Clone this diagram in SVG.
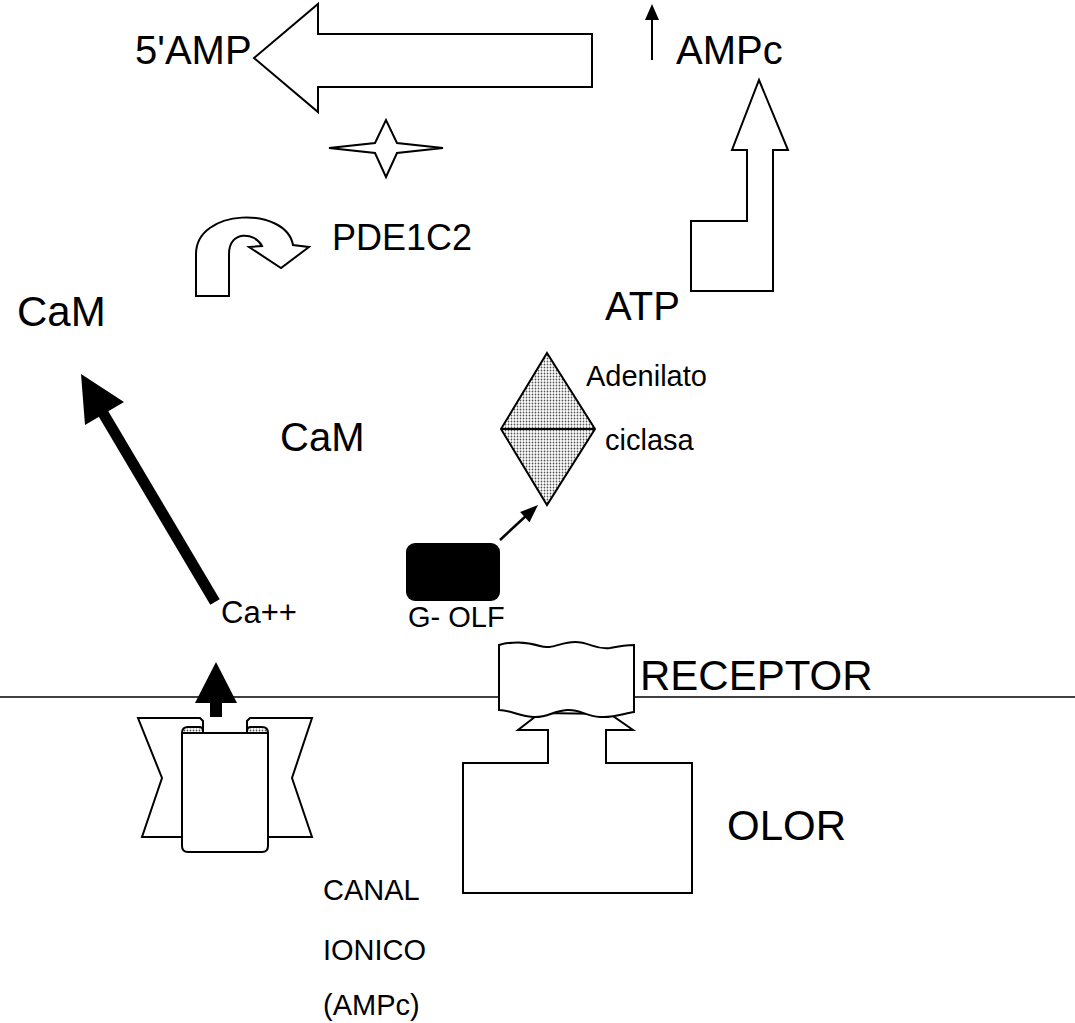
<svg xmlns="http://www.w3.org/2000/svg" width="1075" height="1023" viewBox="0 0 1075 1023">
<defs>
<pattern id="dots" width="3" height="3" patternUnits="userSpaceOnUse">
<rect width="3" height="3" fill="#ffffff"/>
<circle cx="1.5" cy="1.5" r="0.9" fill="#555555"/>
</pattern>
<style>
.t{font-family:"Liberation Sans",Arial,sans-serif;fill:#000}
.big{font-size:40px}
.sm{font-size:29px}
.o{fill:#fff;stroke:#000;stroke-width:2;stroke-linejoin:miter}
.d{fill:url(#dots);stroke:#000;stroke-width:2}
.k{fill:#000;stroke:none}
</style>
</defs>
<rect width="1075" height="1023" fill="#fff"/>

<g id="membrane"><line x1="0" y1="697" x2="1075" y2="697" stroke="#000" stroke-width="1.5"/></g>

<g id="connectors">
<polygon id="arrow-5amp" class="o" points="254,58 318,4 318,34 592,34 592,87 318,87 318,112"/>
<g id="arrow-ampc-up"><line x1="652" y1="60" x2="652" y2="16" stroke="#000" stroke-width="2"/><polygon class="k" points="645,20 659,20 652,4"/></g>
<polygon id="arrow-atp" class="o" points="759,80 788,150 773,150 773,291 691,291 691,221 747,221 747,150 732,150"/>
<path id="arrow-cam-pde" class="o" d="M196,296 L196,254 C196,208 286,206 293,245 L309,247 L281,268 L249,247 L262,246 C255,232 229,230 229,254 L229,296 Z"/>
<g id="arrow-ca-cam"><line x1="215" y1="602" x2="100" y2="408" stroke="#000" stroke-width="11"/><polygon class="k" points="81,374 85,425 124,402"/></g>
<g id="arrow-golf-ac"><line x1="500" y1="540" x2="528" y2="514" stroke="#000" stroke-width="2.5"/><polygon class="k" points="538,505 529.5,522.3 520.1,512.1"/></g>
<g id="arrow-ion"><rect class="k" x="210" y="700" width="12" height="17"/><polygon class="k" points="216,662 237,703 195,703"/></g>
</g>

<g id="star"><polygon class="o" points="329,148 375,143 386,120 397,143 443,148 397,153 386,177 375,153"/></g>

<g id="adenilato-ciclasa">
<polygon class="d" points="547,353 595,429 547,505 501,429"/>
<line x1="501" y1="429" x2="595" y2="429" stroke="#000" stroke-width="2"/>
</g>

<g id="g-olf"><rect class="k" x="406" y="543" width="94" height="58" rx="9"/></g>

<g id="olor">
<polygon class="o" points="540,713 518,730 548,730 548,763 463,763 463,893 692,893 692,763 606,763 606,730 633,730 610,714"/>
</g>

<g id="receptor">
<path class="o" d="M499,645 C510,642 525,641 540,646 C552,650 560,642 575,642 C590,642 595,650 610,648 C620,646 628,645 634,645 L634,712 C625,713 615,718 600,717 C585,716 580,709 567,710 C552,711 548,718 533,717 C518,716 510,710 499,710 Z"/>
</g>

<g id="canal-ionico">
<polygon class="o" points="138,718 200,718 203,721 203,745 182,745 182,837 142,837 162,778"/>
<polygon class="o" points="312,718 250,718 247,721 247,745 268,745 268,837 312,837 292,778"/>
<path class="o" d="M182,733 L268,733 L268,846 Q268,852 262,852 L188,852 Q182,852 182,846 Z"/>
<path class="d" d="M182,733 Q182,727 188,727 L199,727 Q203,727 203,731 L203,733 Z"/>
<path class="d" d="M247,733 L247,731 Q247,727 251,727 L262,727 Q268,727 268,733 Z"/>
</g>

<g id="labels">
<text class="t big" x="135" y="64">5'AMP</text>
<text class="t big" x="676" y="64">AMPc</text>
<text class="t" style="font-size:36px" x="332" y="250">PDE1C2</text>
<text class="t" style="font-size:42px" x="17" y="326">CaM</text>
<text class="t big" x="605" y="320">ATP</text>
<text class="t sm" x="586" y="386">Adenilato</text>
<text class="t sm" x="605" y="450">ciclasa</text>
<text class="t big" x="280" y="451">CaM</text>
<text class="t" style="font-size:31px" x="221" y="623">Ca++</text>
<text class="t sm" x="408" y="627">G- OLF</text>
<text class="t" style="font-size:42px" x="640" y="690">RECEPTOR</text>
<text class="t" style="font-size:42px" x="727" y="840">OLOR</text>
<text class="t sm" x="323" y="900">CANAL</text>
<text class="t sm" x="323" y="960">IONICO</text>
<text class="t sm" x="323" y="1015">(AMPc)</text>
</g>
</svg>
